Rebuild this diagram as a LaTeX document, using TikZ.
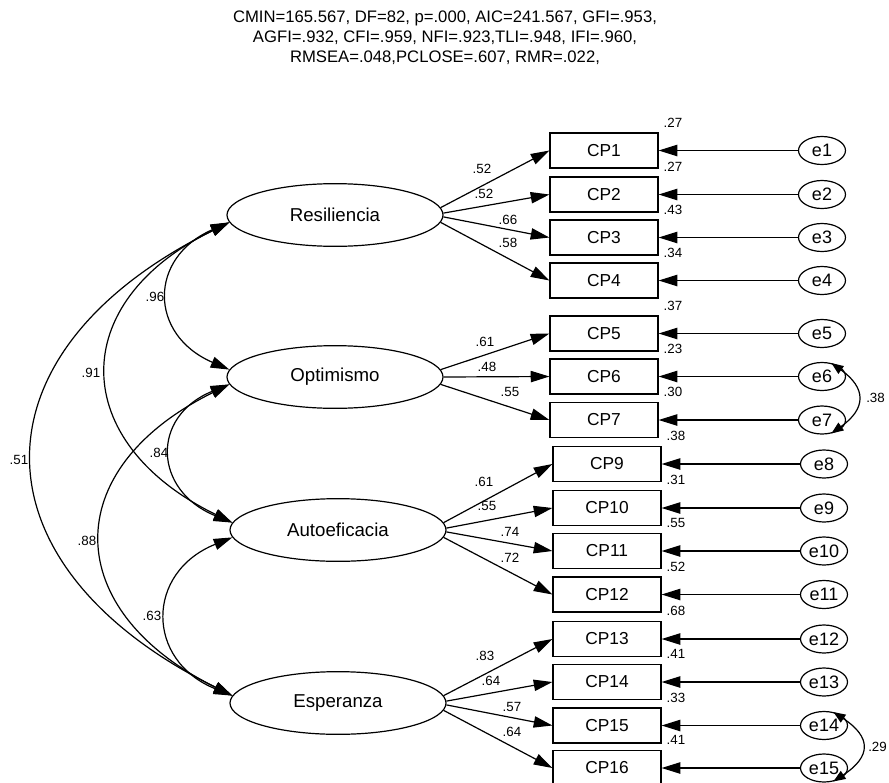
\documentclass[tikz,border=0pt]{standalone}
\usepackage{fontspec}
\setmainfont{Liberation Sans}
\usetikzlibrary{arrows.meta,shapes.geometric}
\begin{document}
\begin{tikzpicture}[x=0.75pt,y=-0.75pt,
  every node/.style={inner sep=0pt},
  lat/.style={draw, ellipse, line width=0.9pt, minimum width=162pt, minimum height=47pt, font=\fontsize{14}{16}\selectfont},
  obs/.style={draw, rectangle, line width=0.9pt, minimum width=81pt, minimum height=26.25pt, font=\fontsize{13}{15}\selectfont},
  ev/.style={draw, ellipse, line width=0.9pt, minimum width=35.25pt, minimum height=21pt, font=\fontsize{13.5}{15}\selectfont},
  lab/.style={font=\fontsize{10}{12}\selectfont},
  arr/.style={line width=0.9pt, -{Triangle[length=14pt,width=8.5pt]}},
  cov/.style={line width=0.9pt, {Triangle[length=14pt,width=8.5pt]}-{Triangle[length=14pt,width=8.5pt]}},
  covs/.style={line width=0.9pt, {Triangle[length=9pt,width=7pt]}-{Triangle[length=9pt,width=7pt]}}
]
\path[use as bounding box, fill=white] (0,0) rectangle (889,782);

\node[font=\fontsize{12.5}{15}\selectfont, align=center] (title) at (445,38)
  {CMIN=165.567, DF=82, p=.000, AIC=241.567, GFI=.953,\\
   AGFI=.932, CFI=.959, NFI=.923,TLI=.948, IFI=.960,\\
   RMSEA=.048,PCLOSE=.607, RMR=.022,};

\node[lat] (Res) at (335,215) {Resiliencia};
\node[lat] (Opt) at (335,377) {Optimismo};
\node[lat] (Aut) at (338,530) {Autoeficacia};
\node[lat] (Esp) at (338,703) {Esperanza};

\foreach \n/\bx/\y/\r/\e/\ex in {
  1/604/150.5/.27/1/822, 2/604/194.5/.27/2/822, 3/604/237.5/.43/3/822,
  4/604/280.5/.34/4/822, 5/604/333.5/.37/5/822, 6/604/376.5/.23/6/822,
  7/604/420/.30/7/822, 9/607/464/.38/8/824, 10/607/508/.31/9/824,
  11/607/551/.55/10/824, 12/607/594.5/.52/11/824, 13/607/639/.68/12/824,
  14/607/682/.41/13/824, 15/607/725.5/.33/14/824, 16/607/768/.41/15/824}{
  \node[obs] (CP\n) at (\bx,\y) {CP\n};
  \node[ev] (e\e) at (\ex,\y) {e\e};
  \draw[arr] (e\e) -- (CP\n);
  \node[lab] (r\n) at (\bx+69,\y-28) {\r};
}

% loadings
\draw[arr] (Res.4.5) -- (CP1.west);
\draw[arr] (Res.1.5) -- (CP2.west);
\draw[arr] (Res.-1.5) -- (CP3.west);
\draw[arr] (Res.-4.5) -- (CP4.west);
\node[lab] (l1) at (482,169) {.52};
\node[lab] (l2) at (484,194) {.52};
\node[lab] (l3) at (508,220) {.66};
\node[lab] (l4) at (508,243) {.58};

\draw[arr] (Opt.4) -- (CP5.west);
\draw[arr] (Opt.0) -- (CP6.west);
\draw[arr] (Opt.-4) -- (CP7.west);
\node[lab] (l5) at (485,342) {.61};
\node[lab] (l6) at (487,367) {.48};
\node[lab] (l7) at (510,392) {.55};

\draw[arr] (Aut.4.5) -- (CP9.west);
\draw[arr] (Aut.1.5) -- (CP10.west);
\draw[arr] (Aut.-1.5) -- (CP11.west);
\draw[arr] (Aut.-4.5) -- (CP12.west);
\node[lab] (l9) at (484,482) {.61};
\node[lab] (l10) at (487,506) {.55};
\node[lab] (l11) at (510,532) {.74};
\node[lab] (l12) at (510,558) {.72};

\draw[arr] (Esp.4.5) -- (CP13.west);
\draw[arr] (Esp.1.5) -- (CP14.west);
\draw[arr] (Esp.-1.5) -- (CP15.west);
\draw[arr] (Esp.-4.5) -- (CP16.west);
\node[lab] (l13) at (485,656) {.83};
\node[lab] (l14) at (491,681) {.64};
\node[lab] (l15) at (512,707) {.57};
\node[lab] (l16) at (512,732) {.64};

% latent covariances
\draw[cov] (Res.184) .. controls +(-81,35) and +(-81,-35) .. (Opt.176);
\draw[cov] (Res.184) .. controls +(-164,80) and +(-164,-80) .. (Aut.176);
\draw[cov] (Res.184) .. controls +(-263,130) and +(-263,-130) .. (Esp.176);
\draw[cov] (Opt.184) .. controls +(-79,32) and +(-79,-32) .. (Aut.176);
\draw[cov] (Opt.184) .. controls +(-172,85) and +(-172,-85) .. (Esp.176);
\draw[cov] (Aut.184) .. controls +(-87,35) and +(-87,-35) .. (Esp.176);
\node[lab] (c1) at (155,297) {.96};
\node[lab] (c2) at (91,373) {.91};
\node[lab] (c3) at (19,460) {.51};
\node[lab] (c4) at (159,453) {.84};
\node[lab] (c5) at (87,541) {.88};
\node[lab] (c6) at (152,616) {.63};

% error covariances
\draw[covs] (e6.55) .. controls +(35,25) and +(35,-25) .. (e7.-55);
\node[lab, anchor=west] (c7) at (866,398) {.38};
\draw[covs] (e14.55) .. controls +(38,25) and +(38,-25) .. (e15.-55);
\node[lab, anchor=west] (c8) at (868,747) {.29};
\end{tikzpicture}
\end{document}
